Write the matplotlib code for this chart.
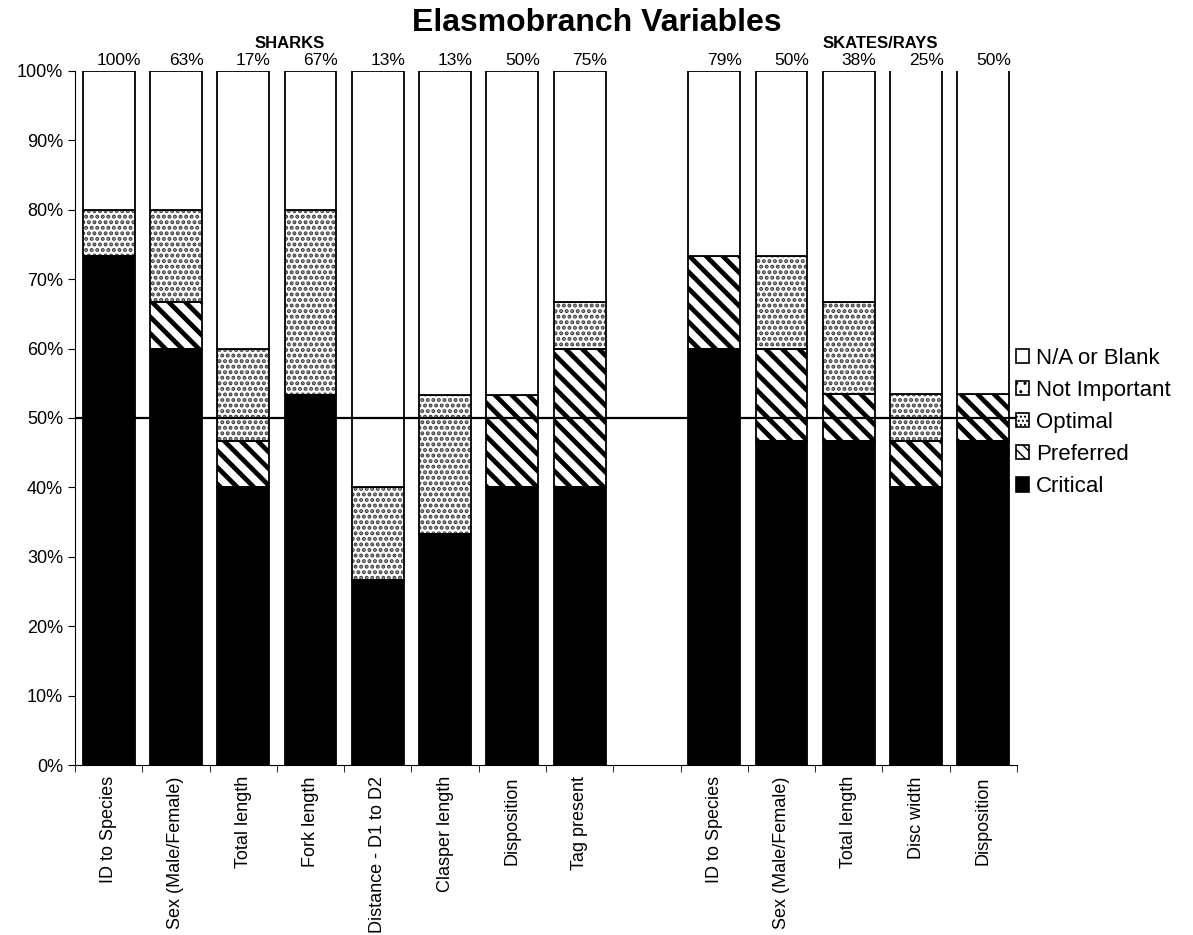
import matplotlib as mpl
import matplotlib.pyplot as plt
from matplotlib.patches import Patch
import numpy as np

plt.rcParams['font.family'] = ['Liberation Sans', 'DejaVu Sans']

# categories (blank slot separates the two groups)
categories = ["ID to Species", "Sex (Male/Female)", "Total length", "Fork length",
              "Distance - D1 to D2", "Clasper length", "Disposition", "Tag present",
              "",
              "ID to Species", "Sex (Male/Female)", "Total length", "Disc width",
              "Disposition"]

# percent of respondents per rating
critical      = [73.3, 60.0, 40.0, 53.3, 26.7, 33.3, 40.0, 40.0, 0, 60.0, 46.7, 46.7, 40.0, 46.7]
preferred     = [0.0, 6.7, 6.7, 0.0, 0.0, 0.0, 13.3, 20.0, 0, 13.3, 13.3, 6.7, 6.7, 6.7]
optimal       = [6.7, 13.3, 13.3, 26.7, 13.3, 20.0, 0.0, 6.7, 0, 0.0, 13.3, 13.3, 6.7, 0.0]
not_important = [0, 0, 0, 0, 0, 0, 0, 0, 0, 0, 0, 0, 0, 0]
na_blank      = [20.0, 20.0, 40.0, 20.0, 60.0, 46.7, 46.7, 33.3, 0, 26.7, 26.7, 33.3, 46.7, 46.7]

top_labels = ["100%", "63%", "17%", "67%", "13%", "13%", "50%", "75%", "",
              "79%", "50%", "38%", "25%", "50%"]

fig = plt.figure(figsize=(11.93, 9.35), dpi=100)
ax = fig.add_axes([0.0629, 0.1818, 0.7896, 0.7423])

x = np.arange(len(categories))
w = 0.77
show = np.array([c != "" for c in categories])
xs = x[show]

def sel(v):
    return np.array(v, dtype=float)[show]

# (label, values, face, hatch, hatch colour, hatch linewidth, legend hatch)
series = [
    ("Critical", critical, "black", None, None, None, None),
    ("Preferred", preferred, "white", "\\\\", "black", 3.4, "\\\\\\"),
    ("Optimal", optimal, "white", "...", "#404040", 2.0, "...."),
    ("Not Important", not_important, "white", "..", "#606060", 1.2, ".."),
    ("N/A or Blank", na_blank, "white", None, None, None, None),
]

bottom = np.zeros(show.sum())
handles = []
for name, vals, face, hatch, hcol, hlw, lhatch in series:
    v = sel(vals)
    if hatch:
        with mpl.rc_context({'hatch.linewidth': hlw}):
            ax.bar(xs, v, w, bottom=bottom, color=face, hatch=hatch,
                   edgecolor=hcol, linewidth=0, zorder=2)
        with mpl.rc_context({'hatch.linewidth': min(hlw, 1.5)}):
            handles.append(Patch(facecolor="white", hatch=lhatch, edgecolor="black",
                                 linewidth=1.2, label=name))
        ax.bar(xs, v, w, bottom=bottom, fill=False, edgecolor="black", linewidth=1.3, zorder=3)
    else:
        ax.bar(xs, v, w, bottom=bottom, color=face, edgecolor="black", linewidth=1.3, zorder=3)
        handles.append(Patch(facecolor=face, edgecolor="black", linewidth=1.2, label=name))
    bottom = bottom + v

# 50% reference line
ax.axhline(50, color="black", lw=1.6, zorder=4)

# labels above the bars
for i, lab in enumerate(top_labels):
    if lab:
        ax.annotate(lab, (x[i] + 0.15, 100), xytext=(0, 7.5), textcoords="offset points",
                    ha="center", va="center", fontsize=12.5, annotation_clip=False)

ax.set_xlim(-0.5, len(categories) - 0.5)
ax.set_ylim(0, 100)
ax.set_yticks(np.arange(0, 101, 10))
ax.set_yticklabels([f"{t}%" for t in range(0, 101, 10)], fontsize=13)
ax.set_xticks(x)
ax.set_xticklabels(categories, rotation=90, fontsize=13)
ax.set_xticks(np.arange(-0.5, len(categories) + 0.5, 1), minor=True)
ax.tick_params(axis="x", which="major", length=0, pad=8)
ax.tick_params(axis="x", which="minor", length=5, direction="out")
ax.tick_params(axis="y", length=5, direction="out")
for s in ["top", "right"]:
    ax.spines[s].set_visible(False)

fig.text(0.5, 0.975, "Elasmobranch Variables", ha="center", va="center", fontsize=23, fontweight="bold")
fig.text(0.243, 0.953, "SHARKS", ha="center", va="center", fontsize=12, fontweight="bold")
fig.text(0.738, 0.953, "SKATES/RAYS", ha="center", va="center", fontsize=12, fontweight="bold")

fig.legend(handles=handles[::-1], loc="center left", bbox_to_anchor=(0.835, 0.548),
           frameon=False, fontsize=16, handlelength=0.6, handleheight=0.6,
           handletextpad=0.3, labelspacing=0.5)

fig.savefig("out.png", dpi=100)
